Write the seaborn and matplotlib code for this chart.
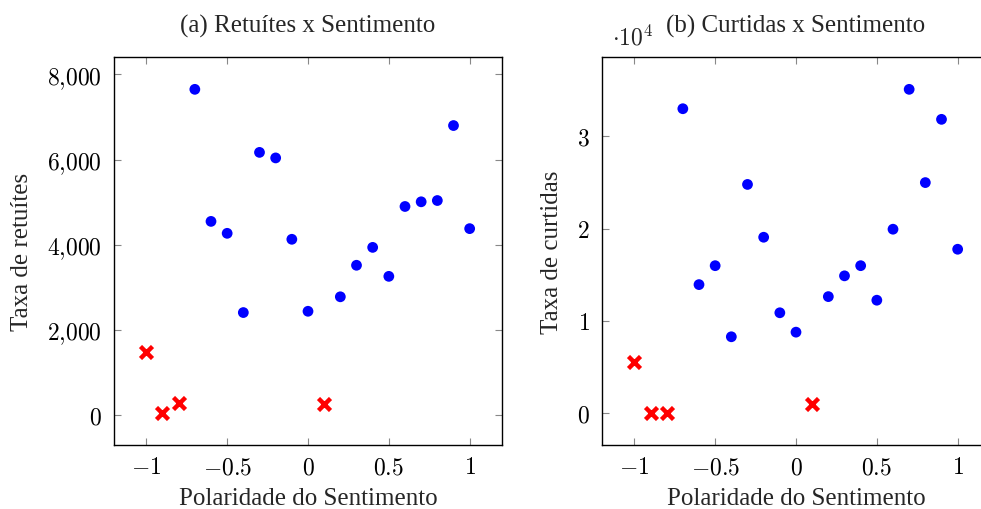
import matplotlib
matplotlib.use("Agg")
import matplotlib.pyplot as plt
import seaborn as sns
from matplotlib.ticker import FuncFormatter, MultipleLocator

# Polaridade do sentimento
pol_blue = [-0.7, -0.6, -0.5, -0.4, -0.3, -0.2, -0.1, 0.0, 0.2, 0.3, 0.4, 0.5, 0.6, 0.7, 0.8, 0.9, 1.0]
pol_red = [-1.0, -0.9, -0.8, 0.1]

# (a) Retuítes
ret_blue = [7650, 4550, 4270, 2410, 6170, 6040, 4130, 2440, 2780, 3520, 3940, 3260, 4900, 5010, 5040, 6800, 4380]
ret_red = [1490, 60, 280, 260]

# (b) Curtidas
cur_blue = [33000, 13950, 16000, 8300, 24800, 19080, 10900, 8800, 12650, 14900, 16000, 12260, 19950, 35100, 25000, 31850, 17780]
cur_red = [5520, 80, 80, 970]

sns.set_style("ticks")
plt.rcParams["font.family"] = ["Liberation Serif", "DejaVu Serif"]
plt.rcParams["mathtext.fontset"] = "cm"

fig = plt.figure(figsize=(9.81, 5.10), dpi=100)
ax1 = fig.add_axes([114 / 981, 64 / 510, 388 / 981, 388 / 510])
ax2 = fig.add_axes([602 / 981, 64 / 510, 388 / 981, 388 / 510])


def fmt_x(v, pos):
    return f"${v:g}$"


def enlarge(vals, frac=0.1):
    lo, hi = min(vals), max(vals)
    d = (hi - lo) * frac
    return lo - d, hi + d


for ax, yb, yr in [(ax1, ret_blue, ret_red), (ax2, cur_blue, cur_red)]:
    sns.scatterplot(x=pol_blue, y=yb, ax=ax, color="#0000ff", s=60, edgecolor="none", marker="o")
    sns.scatterplot(x=pol_red, y=yr, ax=ax, color="#ff0000", s=75, marker="x", linewidth=3.2)
    ax.set_xlim(-1.2, 1.2)
    ax.set_ylim(*enlarge(yb + yr))
    ax.xaxis.set_major_locator(MultipleLocator(0.5))
    ax.xaxis.set_major_formatter(FuncFormatter(fmt_x))
    ax.tick_params(direction="in", top=True, right=True, length=5, width=0.8,
                   color="#888888", labelcolor="black", labelsize=17, pad=9)
    for sp in ax.spines.values():
        sp.set_visible(True)
        sp.set_linewidth(1.0)
        sp.set_color("black")
    ax.set_xlabel("Polaridade do Sentimento", fontsize=18, labelpad=6)

ax1.yaxis.set_major_locator(MultipleLocator(2000))
ax1.yaxis.set_major_formatter(FuncFormatter(lambda v, p: f"${v:,.0f}$".replace(",", "{,}")))
ax1.set_ylabel("Taxa de retuítes", fontsize=18, labelpad=10)
ax1.set_title("(a) Retuítes x Sentimento", fontsize=18, pad=18)

ax2.yaxis.set_major_locator(MultipleLocator(10000))
ax2.yaxis.set_major_formatter(FuncFormatter(lambda v, p: f"${v / 1e4:g}$"))
ax2.set_ylabel("Taxa de curtidas", fontsize=18, labelpad=10)
ax2.set_title("(b) Curtidas x Sentimento", fontsize=18, pad=18)
ax2.text(0.025, 1.02, r"$\cdot 10^4$", transform=ax2.transAxes, fontsize=17,
         ha="left", va="bottom")

fig.savefig("out.png", dpi=100)
